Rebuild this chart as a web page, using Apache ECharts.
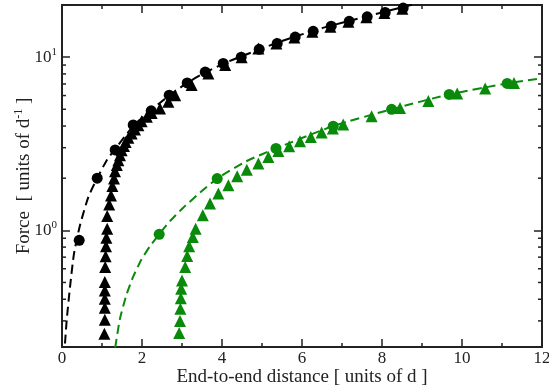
<!DOCTYPE html>
<html>
<head>
<meta charset="utf-8">
<script src="https://cdn.jsdelivr.net/npm/echarts@6/dist/echarts.min.js"></script>
<style>
  html, body { margin: 0; padding: 0; background: #fff; }
  #chart { width: 549px; height: 390px; }
</style>
</head>
<body>
<div id="chart"></div>
<script>
// black set: circles + dashed curve + triangles
const blackCircleX = [0.43, 0.88, 1.33, 1.78, 2.23, 2.68, 3.13, 3.58, 4.03, 4.48, 4.93, 5.38, 5.83, 6.28, 6.73, 7.18, 7.63, 8.08, 8.53]
const blackCircleF = [0.875, 2.0, 2.91, 4.06, 4.9, 6.03, 7.1, 8.2, 9.2, 10.0, 11.1, 12.0, 13.05, 14.1, 15.1, 16.1, 17.1, 18.1, 19.2]
const blackTriX = [1.06, 1.07, 1.07, 1.07, 1.07, 1.07, 1.08, 1.09, 1.10, 1.11, 1.13, 1.13, 1.18, 1.225, 1.26, 1.30, 1.325, 1.37, 1.41, 1.45,
                   1.49, 1.55, 1.59, 1.66, 1.74, 1.825, 1.91, 1.99, 2.12, 2.24, 2.45, 2.66, 2.83, 3.24, 3.66, 4.08, 4.49, 4.91,
                   5.36, 5.81, 6.26, 6.71, 7.16, 7.61, 8.06, 8.51]
const blackTriF = [0.253, 0.305, 0.357, 0.403, 0.45, 0.503, 0.614, 0.708, 0.809, 0.907, 1.02, 1.21, 1.41, 1.59, 1.80, 1.99, 2.19, 2.38, 2.54, 2.71,
                   2.90, 3.07, 3.24, 3.42, 3.62, 3.82, 4.04, 4.27, 4.52, 4.76, 5.05, 5.52, 6.03, 6.9, 8.05, 9.0, 10.0, 11.2,
                   12.0, 13.0, 14.0, 15.0, 16.0, 17.0, 18.0, 19.0]
const blackLineX = [0.075, 0.117, 0.2, 0.3, 0.45, 0.66, 0.88, 1.12, 1.33, 1.78, 2.23, 2.68, 3.13, 3.58, 4.03, 4.48, 5.5, 6.5, 7.5, 8.9]
const blackLineF = [0.222, 0.302, 0.47, 0.733, 1.07, 1.56, 2.0, 2.54, 2.95, 4.0, 4.95, 6.0, 7.1, 8.15, 9.15, 10.1, 12.4, 14.7, 16.9, 20.5]

// green set
const greenCircleX = [2.43, 3.88, 5.35, 6.78, 8.24, 9.68, 11.13]
const greenCircleF = [0.948, 1.99, 2.97, 3.99, 5.0, 6.09, 7.05]
const greenTriX = [2.93, 2.95, 2.96, 2.97, 2.98, 3.0, 3.08, 3.13, 3.18, 3.27, 3.34, 3.52, 3.7, 3.91, 4.16, 4.38, 4.62,
                   4.91, 5.16, 5.41, 5.68, 5.95, 6.22, 6.49, 6.77, 7.03, 7.74, 8.45, 9.16, 9.88, 10.58, 11.3]
const greenTriF = [0.255, 0.30, 0.352, 0.406, 0.46, 0.514, 0.614, 0.711, 0.81, 0.915, 1.02, 1.22, 1.43, 1.63, 1.82, 2.05, 2.24,
                   2.43, 2.65, 2.87, 3.06, 3.27, 3.46, 3.67, 3.87, 4.08, 4.56, 5.09, 5.59, 6.17, 6.59, 7.1]
const greenLineX = [1.33, 1.45, 1.62, 1.78, 1.99, 2.2, 2.43, 2.7, 3.03, 3.45, 3.88, 4.6, 5.35, 6.78, 8.24, 9.68, 11.13, 12.0]
const greenLineF = [0.21, 0.31, 0.43, 0.54, 0.68, 0.81, 0.95, 1.13, 1.35, 1.65, 1.99, 2.5, 2.97, 4.0, 5.0, 6.09, 7.05, 7.55]

// axis ticks
const xTicks = [0, 2, 4, 6, 8, 10, 12]
const yMinorTicks = [0.3, 0.4, 0.5, 0.6, 0.7, 0.8, 0.9, 2, 3, 4, 5, 6, 7, 8, 9]

const BLACK = '#000000'
const GREEN = '#0a8a0a'
const AXIS = '#222222'
const FONT = '"Liberation Serif", "DejaVu Serif", serif'

const zip = (xs, ys) => xs.map((x, i) => [x, ys[i]])

const chart = echarts.init(document.getElementById('chart'), null, { renderer: 'canvas' })

const isPow10 = (v) => Math.abs(Math.log10(v) - Math.round(Math.log10(v))) < 1e-6

const xAxisBase = {
  type: 'value', min: xTicks[0], max: xTicks[xTicks.length - 1], interval: 2,
  axisLine: { onZero: false, lineStyle: { color: AXIS, width: 2 } },
  axisTick: { inside: true, length: 8, lineStyle: { color: AXIS, width: 1.5 } },
  minorTick: { show: true, splitNumber: 2, length: 4, lineStyle: { color: AXIS, width: 1.5 } },
  splitLine: { show: false },
}
const yAxisBase = {
  type: 'log', logBase: 10, min: 0.212, max: 20,
  axisLine: { onZero: false, lineStyle: { color: AXIS, width: 2 } },
  axisTick: { inside: true, length: 8, lineStyle: { color: AXIS, width: 1.5 } },
  splitLine: { show: false },
}

const minorTickSeries = (xVal, offset) => ({
  type: 'scatter', silent: true, clip: false, z: 5,
  data: yMinorTicks.map((v) => [xVal, v]),
  symbol: 'rect', symbolSize: [4, 1.5], symbolOffset: [offset, 0],
  itemStyle: { color: AXIS, opacity: 1 },
})

const markStyle = (color) => ({ color, opacity: 1 })

chart.setOption({
  backgroundColor: '#fff',
  animation: false,
  textStyle: { fontFamily: FONT },
  grid: { left: 62, right: 7, top: 5, bottom: 43, containLabel: false, outerBoundsMode: 'none' },
  xAxis: [
    { ...xAxisBase, position: 'bottom',
      axisLabel: { color: '#222', fontSize: 17, fontFamily: FONT, margin: 3 },
      name: 'End-to-end distance [ units of d ]', nameLocation: 'middle', nameGap: 21, nameMoveOverlap: false,
      nameTextStyle: { color: '#222', fontSize: 19, fontFamily: FONT } },
    { ...xAxisBase, position: 'top', axisLabel: { show: false } },
  ],
  yAxis: [
    { ...yAxisBase, position: 'left',
      axisLabel: {
        color: '#222', fontSize: 17, fontFamily: FONT, margin: 5,
        formatter: (v) => isPow10(v) ? '10{sup|' + Math.round(Math.log10(v)) + '}' : '',
        rich: { sup: { fontSize: 11, fontFamily: FONT, color: '#222', padding: [0, 0, 10, 0] } },
      },
      name: 'Force  [ units of d{sup|-1} ]', nameLocation: 'middle', nameGap: 27, nameRotate: 90, nameMoveOverlap: false,
      nameTextStyle: { color: '#222', fontSize: 19, fontFamily: FONT,
        rich: { sup: { fontSize: 12, fontFamily: FONT, color: '#222', padding: [0, 0, 10, 0] } } } },
    { ...yAxisBase, position: 'right', axisLabel: { show: false } },
  ],
  series: [
    { name: 'black fit', type: 'line', data: zip(blackLineX, blackLineF), symbol: 'none', smooth: 0.2,
      lineStyle: { color: BLACK, width: 2, type: [9, 5] }, z: 2 },
    { name: 'green fit', type: 'line', data: zip(greenLineX, greenLineF), symbol: 'none', smooth: 0.2,
      lineStyle: { color: GREEN, width: 2, type: [9, 5] }, z: 2 },
    { name: 'black tri', type: 'scatter', data: zip(blackTriX, blackTriF), symbol: 'triangle', symbolSize: 12,
      itemStyle: markStyle(BLACK), z: 3 },
    { name: 'black circ', type: 'scatter', data: zip(blackCircleX, blackCircleF), symbol: 'circle', symbolSize: 11,
      itemStyle: markStyle(BLACK), z: 3 },
    { name: 'green tri', type: 'scatter', data: zip(greenTriX, greenTriF), symbol: 'triangle', symbolSize: 12,
      itemStyle: markStyle(GREEN), z: 3 },
    { name: 'green circ', type: 'scatter', data: zip(greenCircleX, greenCircleF), symbol: 'circle', symbolSize: 11,
      itemStyle: markStyle(GREEN), z: 3 },
    minorTickSeries(0, 2),
    minorTickSeries(12, -2),
  ],
})
</script>
</body>
</html>
